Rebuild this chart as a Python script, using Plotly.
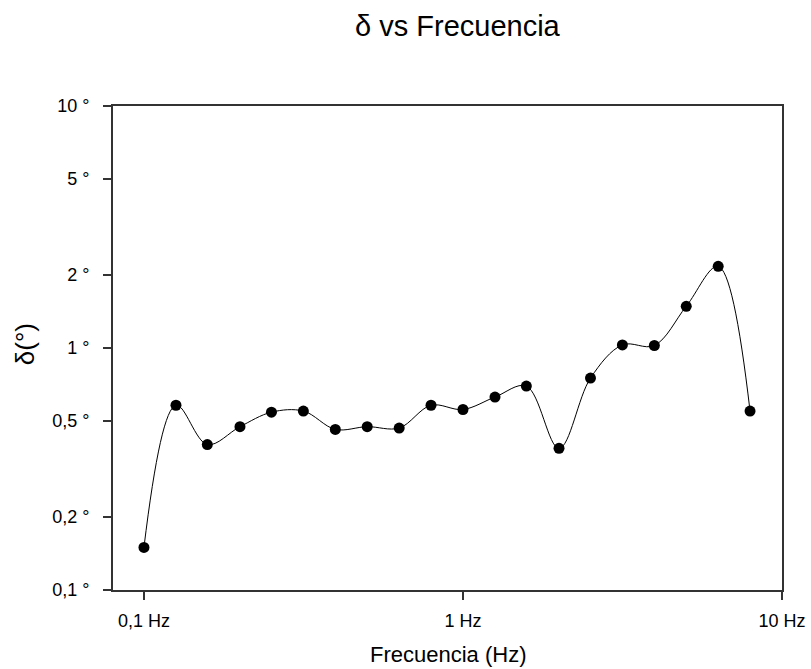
import plotly.graph_objects as go

freq_hz = [0.1, 0.126, 0.158, 0.2, 0.251, 0.316, 0.398, 0.501, 0.631, 0.794,
           1.0, 1.26, 1.58, 2.0, 2.51, 3.16, 3.98, 5.01, 6.31, 7.94]
delta_deg = [0.150, 0.58, 0.399, 0.473, 0.543, 0.549, 0.461, 0.473, 0.467, 0.58,
             0.557, 0.627, 0.696, 0.385, 0.751, 1.03, 1.024, 1.487, 2.175, 0.549]

x_tickvals = [0.1, 1, 10]
x_ticktext = ["0,1 Hz", "1 Hz", "10 Hz"]
y_tickvals = [0.1, 0.2, 0.5, 1, 2, 5, 10]
y_ticktext = ["0,1 °  ", "0,2 °  ", "0,5 °  ", "1 °  ", "2 °  ", "5 °  ", "10 °  "]

fig = go.Figure()
fig.add_trace(go.Scatter(
    x=freq_hz, y=delta_deg, mode="lines+markers",
    line=dict(color="black", width=1, shape="spline", smoothing=1.0),
    marker=dict(color="black", size=11),
    showlegend=False,
))

font = "Liberation Sans, Arial, sans-serif"
fig.update_layout(
    width=811, height=669,
    margin=dict(l=113, r=29, t=106, b=79, autoexpand=False),
    paper_bgcolor="white", plot_bgcolor="white",
    font=dict(family=font, color="black"),
    title=dict(text="δ vs Frecuencia", x=0.564, xanchor="center", y=0.962, yanchor="middle",
               font=dict(size=29, color="black")),
    xaxis=dict(
        type="log", range=[-1.097, 1.0], automargin=False,
        tickvals=x_tickvals, ticktext=x_ticktext,
        ticks="outside", ticklen=8, tickwidth=1.5, tickcolor="#333",
        ticklabelstandoff=5,
        showline=True, linecolor="#333", linewidth=2, mirror=True,
        showgrid=False, zeroline=False,
        tickfont=dict(size=18),
    ),
    yaxis=dict(
        type="log", range=[-1, 1], automargin=False,
        tickvals=y_tickvals, ticktext=y_ticktext,
        ticks="outside", ticklen=8, tickwidth=1.5, tickcolor="#333",
        showline=True, linecolor="#333", linewidth=2, mirror=True,
        showgrid=False, zeroline=False,
        tickfont=dict(size=18),
    ),
    annotations=[
        dict(text="Frecuencia (Hz)", xref="paper", yref="paper", x=0.5, y=-0.134,
             xanchor="center", yanchor="middle", showarrow=False, font=dict(size=22)),
        dict(text="δ(°)", xref="paper", yref="paper", x=-0.1315, y=0.508, textangle=-90,
             xanchor="center", yanchor="middle", showarrow=False, font=dict(size=26)),
    ],
)

fig.write_html("out.html")
